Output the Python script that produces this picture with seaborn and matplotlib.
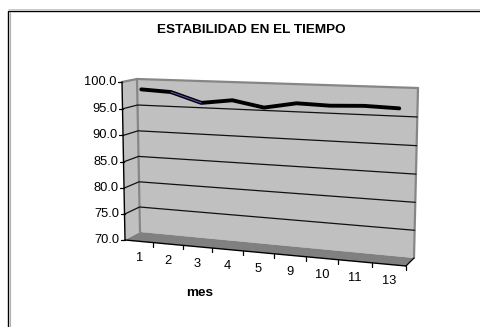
import numpy as np
import pandas as pd
import matplotlib
matplotlib.use("Agg")
import matplotlib.pyplot as plt
import seaborn as sns

# Data
MESES = ["1", "2", "3", "4", "5", "9", "10", "11", "13"]
ESTABILIDAD = [98.4, 98.1, 96.3, 97.0, 95.9, 96.9, 96.7, 96.9, 96.7]
Y_TICKS = [70.0, 75.0, 80.0, 85.0, 90.0, 95.0, 100.0]

TITLE = "ESTABILIDAD EN EL TIEMPO"
XLABEL = "mes"

Y_MIN, Y_MAX = 70.0, 100.0

# Corners of the fake 3D box in pixels: bottom-left, bottom-right, top-right, top-left
FRONT = [(125, 240), (406, 266), (410, 91), (122, 82)]
BACK = [(140, 232), (414, 258), (418, 88), (137, 79)]


def homography(corners):
    src = [(0, 0), (1, 0), (1, 1), (0, 1)]
    A, b = [], []
    for (u, v), (x, y) in zip(src, corners):
        A.append([u, v, 1, 0, 0, 0, -u * x, -v * x])
        A.append([0, 0, 0, u, v, 1, -u * y, -v * y])
        b += [x, y]
    h = np.linalg.solve(np.array(A, float), np.array(b, float))
    return np.append(h, 1).reshape(3, 3)


H_FRONT = homography(FRONT)
H_BACK = homography(BACK)


def project(u, value, depth=0.0):
    # u goes 0-1 along the categories, depth 0 = front plane, 1 = back wall
    v = (value - Y_MIN) / (Y_MAX - Y_MIN)
    pts = []
    for H in (H_FRONT, H_BACK):
        p = H @ np.array([u, v, 1.0])
        pts.append(p[:2] / p[2])
    return pts[0] * (1 - depth) + pts[1] * depth


sns.set_theme(style="white")
plt.rcParams["font.family"] = ["Liberation Sans", "DejaVu Sans"]

fig = plt.figure(figsize=(4.81, 3.27), dpi=100)
ax = fig.add_axes([0, 0, 1, 1])

n = len(MESES)
WALL = "#C0C0C0"
EDGE = "#868686"

# walls and floor
wall = [project(u, val, 1) for u, val in [(0, Y_MIN), (1, Y_MIN), (1, Y_MAX), (0, Y_MAX)]]
side = [project(0, Y_MIN, 0), project(0, Y_MIN, 1), project(0, Y_MAX, 1), project(0, Y_MAX, 0)]
floor = [project(0, Y_MIN, 0), project(1, Y_MIN, 0), project(1, Y_MIN, 1), project(0, Y_MIN, 1)]
ax.add_patch(plt.Polygon(wall, fc=WALL, ec="none", zorder=1))
ax.add_patch(plt.Polygon(side, fc=WALL, ec="none", zorder=1))
ax.add_patch(plt.Polygon(floor, fc="#808080", ec="none", zorder=1))

# grey box edges
for a, b in [((0, Y_MAX, 0), (0, Y_MAX, 1)), ((0, Y_MAX, 1), (1, Y_MAX, 1)),
             ((0, Y_MAX, 1), (0, Y_MIN, 1)), ((1, Y_MAX, 1), (1, Y_MIN, 1))]:
    p, q = project(*a), project(*b)
    ax.plot([p[0], q[0]], [p[1], q[1]], color=EDGE, lw=1.6, zorder=2, solid_capstyle="round")

# gridlines and value axis
for val in Y_TICKS:
    pts = [project(0, val, 0), project(0, val, 1), project(1, val, 1)]
    if val > Y_MIN and val < Y_MAX:
        ax.plot(*zip(*pts), color="#111111", lw=0.9, zorder=3)
    p = pts[0]
    ax.plot([p[0] - 4, p[0]], [p[1], p[1]], color="black", lw=0.9, zorder=4)
    ax.text(p[0] - 5, p[1], f"{val:.1f}", ha="right", va="center", fontsize=9.3, color="black")

p, q = project(0, Y_MIN, 0), project(0, Y_MAX, 0)
ax.plot([p[0], q[0]], [p[1], q[1]], color="black", lw=1.0, zorder=4)
p, q = project(0, Y_MIN, 0), project(1, Y_MIN, 0)
ax.plot([p[0], q[0]], [p[1], q[1]], color="black", lw=1.0, zorder=4)
p, q = project(1, Y_MIN, 0), project(1, Y_MIN, 1)
ax.plot([p[0], q[0]], [p[1], q[1]], color="black", lw=0.9, zorder=4)

# category ticks and labels
for i, mes in enumerate(MESES):
    p = project((i + 1) / n, Y_MIN, 0)
    ax.plot([p[0], p[0]], [p[1], p[1] + 4], color="black", lw=0.9, zorder=4)
    c = project((i + 0.5) / n, Y_MIN, 0)
    ax.text(c[0], c[1] + 17, mes, ha="center", va="center", fontsize=9.3, color="black")

# the series
xy = np.array([project((i + 0.4) / (n - 0.2), val, 0.5) for i, val in enumerate(ESTABILIDAD)])
df = pd.DataFrame({"px": xy[:, 0], "py": xy[:, 1], "mes": MESES})
sns.lineplot(data=df, x="px", y="py", estimator=None, sort=False, color="black",
             lw=2.8, ax=ax, zorder=5, solid_capstyle="round", solid_joinstyle="round")
sns.lineplot(data=df.iloc[1:3], x="px", y="py", estimator=None, sort=False, color="#5A5AC8",
             lw=0.7, ax=ax, zorder=6)

# chart frame, black with a thin grey shadow line
ax.plot([8.5, 8.5, 481], [327, 10.5, 10.5], color="black", lw=1.0, zorder=7, solid_joinstyle="miter")
ax.plot([9.7, 9.7], [327, 11.5], color="#B0B0B0", lw=0.8, zorder=7)
ax.plot([8, 481], [9.2, 9.2], color="#C8C8C8", lw=0.7, zorder=7)

ax.text(251.5, 30, TITLE, ha="center", va="center", fontsize=9.7, fontweight="bold", color="black")
ax.text(200, 293, XLABEL, ha="center", va="center", fontsize=9.7, fontweight="bold", color="black")

ax.set_xlim(0, 481)
ax.set_ylim(327, 0)
ax.set_axis_off()

fig.savefig("out.png", dpi=100, facecolor="white")
